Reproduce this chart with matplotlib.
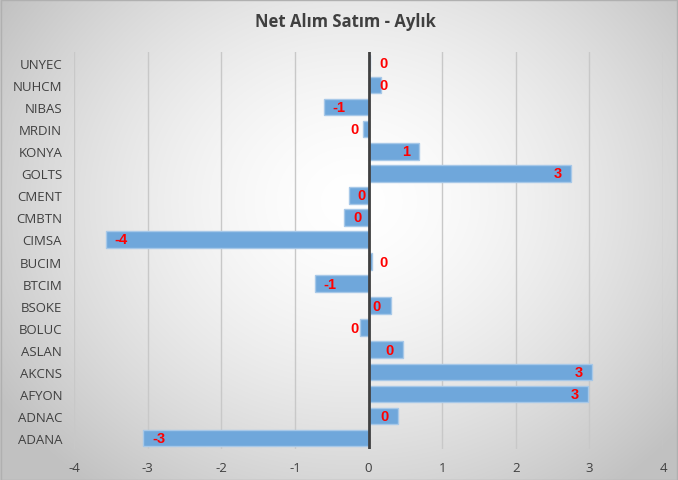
import numpy as np
import matplotlib
matplotlib.use("Agg")
import matplotlib.pyplot as plt

categories = ["ADANA", "ADNAC", "AFYON", "AKCNS", "ASLAN", "BOLUC", "BSOKE", "BTCIM",
              "BUCIM", "CIMSA", "CMBTN", "CMENT", "GOLTS", "KONYA", "MRDIN", "NIBAS",
              "NUHCM", "UNYEC"]
values = [-3.06, 0.40, 2.98, 3.04, 0.47, -0.11, 0.30, -0.73,
          0.05, -3.57, -0.33, -0.27, 2.75, 0.69, -0.08, -0.61,
          0.17, 0.02]
xticks = [-4, -3, -2, -1, 0, 1, 2, 3, 4]
title = "Net Alım Satım - Aylık"

plt.rcParams['font.family'] = ['Open Sans', 'DejaVu Sans']

W, H = 678, 481
fig = plt.figure(figsize=(W / 100, H / 100), dpi=100)

# radial gradient background
bg = fig.add_axes([0, 0, 1, 1], zorder=-10)
yy, xx = np.mgrid[0:H, 0:W]
cx, cy = W * 0.52, H * 0.42
r = np.sqrt(((xx - cx) / (W * 0.62)) ** 2 + ((yy - cy) / (H * 0.75)) ** 2)
r = np.clip(r, 0, 1)
val = 1.0 - 0.24 * r ** 1.6
img = np.dstack([val, val, val])
bg.imshow(img, aspect='auto', extent=[0, 1, 0, 1], origin='upper')
bg.set_xlim(0, 1)
bg.set_ylim(0, 1)
bg.axis('off')
bg.add_patch(plt.Rectangle((0.001, 0.001), 0.998, 0.997, fill=False,
                           edgecolor='#b0b0b0', lw=1, transform=bg.transAxes))

ax = fig.add_axes([74 / W, 1 - 450 / H, (663 - 74) / W, (450 - 53) / H])
ax.patch.set_alpha(0)
y = np.arange(len(categories))
ax.barh(y, values, height=0.75, color='#6FA7DB', edgecolor='#A7C8E8', lw=1, zorder=3)

ax.set_xlim(-4, 4)
ax.set_ylim(-0.5, len(categories) - 0.5)
ax.set_xticks(xticks)
ax.set_xticklabels([str(t) for t in xticks])
ax.set_yticks(y)
ax.set_yticklabels(categories)
for s in ax.spines.values():
    s.set_visible(False)
ax.tick_params(axis='both', length=0, colors='#404040', labelsize=9.5)
ax.tick_params(axis='x', pad=9)
ax.tick_params(axis='y', pad=8.5)
for t in xticks:
    if t != 0:
        ax.axvline(t, color='#c8c8c8', lw=1, zorder=1)
ax.axvline(0, color='#404040', lw=2, zorder=4)

lab_kw = dict(va='center', color='#FF0000', fontsize=10.5, fontweight='bold',
              family='Liberation Sans', zorder=5)
for yi, v in zip(y, values):
    lab = str(int(round(v)))
    if v >= 0:
        if v > 0.25:
            ax.text(v - 0.13, yi, lab, ha='right', **lab_kw)
        else:
            ax.text(0.15, yi, lab, ha='left', **lab_kw)
    else:
        if v < -0.25:
            ax.text(v + 0.12, yi, lab, ha='left', **lab_kw)
        else:
            ax.text(-0.13, yi, lab, ha='right', **lab_kw)

fig.text(345 / W, 1 - 22 / H, title, ha='center', va='center', fontsize=12,
         fontweight='bold', color='#404040')

fig.savefig("out.png", dpi=100)
